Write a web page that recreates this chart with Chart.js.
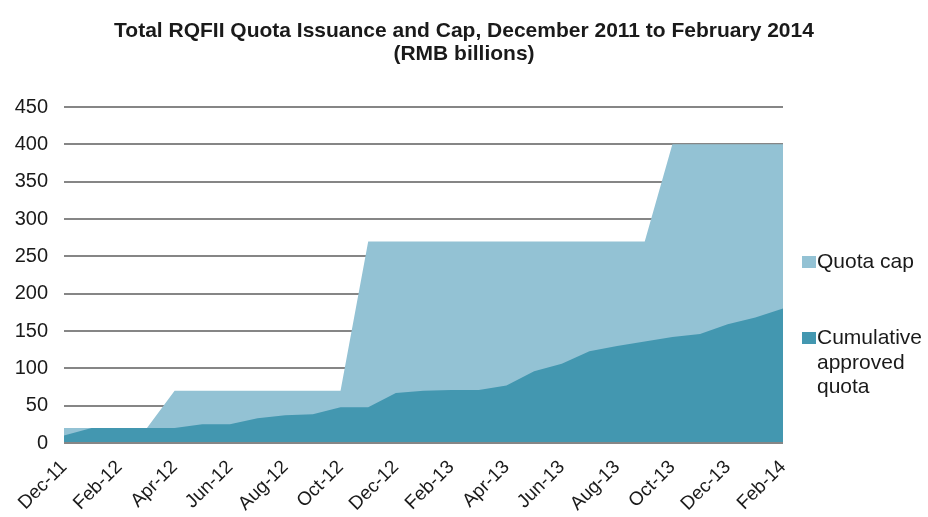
<!DOCTYPE html>
<html>
<head>
<meta charset="utf-8">
<script src="https://cdn.jsdelivr.net/npm/chart.js@4"></script>
<style>
  html, body { margin: 0; padding: 0; background: #fff; }
  #wrap { position: relative; width: 928px; height: 517px; font-family: "Liberation Sans", Arial, sans-serif; color: #1a1a1a; }
  canvas { position: absolute; left: 0; top: 0; }
  .title { position: absolute; left: 0; top: 18px; width: 928px; text-align: center; font-weight: bold; font-size: 21px; line-height: 23px; }
  .lg { position: absolute; font-size: 21px; line-height: 24.5px; white-space: nowrap; }
  .sw { position: absolute; width: 14px; height: 12px; }
</style>
</head>
<body>
<div id="wrap">
  <canvas id="c" width="928" height="517"></canvas>
  <div class="title">Total RQFII Quota Issuance and Cap, December 2011 to February 2014<br>(RMB billions)</div>
  <div class="sw" style="left:802px; top:256px; background:#93c2d4;"></div>
  <div class="lg" style="left:817px; top:249px;">Quota cap</div>
  <div class="sw" style="left:802px; top:332px; background:#4397b0;"></div>
  <div class="lg" style="left:817px; top:325px;">Cumulative<br>approved<br>quota</div>
</div>
<script>
// Monthly, December 2011 – February 2014
const months = [
  "Dec-11","Jan-12","Feb-12","Mar-12","Apr-12","May-12","Jun-12","Jul-12","Aug-12","Sep-12","Oct-12","Nov-12",
  "Dec-12","Jan-13","Feb-13","Mar-13","Apr-13","May-13","Jun-13","Jul-13","Aug-13","Sep-13","Oct-13","Nov-13",
  "Dec-13","Jan-14","Feb-14"
];
// RMB billions
const quotaCap = [20,20,20,20,70,70,70,70,70,70,70,270,270,270,270,270,270,270,270,270,270,270,400,400,400,400,400];
const approvedQuota = [10,20,20,20,20,25,25,33,37,38.5,48,48,67,70,71,71,77,96,106,123,130,136,142,146,159,168,180];
const yTicks = [0,50,100,150,200,250,300,350,400,450];

const FONT = "'Liberation Sans', Arial, sans-serif";

new Chart(document.getElementById('c'), {
  type: 'line',
  data: {
    labels: months,
    datasets: [
      {
        label: 'Cumulative approved quota',
        data: approvedQuota,
        backgroundColor: '#4397b0',
        borderWidth: 0,
        pointRadius: 0,
        tension: 0,
        fill: 'origin',
        order: 1
      },
      {
        label: 'Quota cap',
        data: quotaCap,
        backgroundColor: '#93c2d4',
        borderWidth: 0,
        pointRadius: 0,
        tension: 0,
        fill: 'origin',
        order: 2
      }
    ]
  },
  options: {
    responsive: false,
    animation: false,
    layout: { padding: { left: 0, right: 145, top: 107, bottom: 0 } },
    plugins: {
      legend: { display: false },
      tooltip: { enabled: false },
      title: { display: false }
    },
    scales: {
      x: {
        offset: false,
        grid: { display: false },
        border: { display: false },
        ticks: {
          autoSkip: false,
          maxRotation: 45,
          minRotation: 45,
          padding: 5,
          color: '#1a1a1a',
          font: { family: FONT, size: 19 },
          callback: function (v, i) { return i % 2 === 0 ? months[i] : ''; }
        },
        afterFit: function (s) { s.height = 74; }
      },
      y: {
        min: 0,
        max: 450,
        afterBuildTicks: function (s) { s.ticks = yTicks.map(v => ({ value: v })); },
        grid: { color: '#868686', lineWidth: 2, drawTicks: false },
        border: { display: false },
        ticks: {
          padding: 16,
          color: '#1a1a1a',
          font: { family: FONT, size: 20 }
        },
        afterFit: function (s) { s.width = 64; }
      }
    }
  },
  plugins: [{
    // keep the zero gridline above the filled areas
    id: 'baseline',
    afterDatasetsDraw: function (chart) {
      const y = chart.scales.y.getPixelForValue(0);
      const ctx = chart.ctx;
      ctx.save();
      ctx.strokeStyle = '#868686';
      ctx.lineWidth = 2;
      ctx.beginPath();
      ctx.moveTo(chart.chartArea.left, y);
      ctx.lineTo(chart.chartArea.right, y);
      ctx.stroke();
      ctx.restore();
    }
  }]
});
</script>
</body>
</html>
